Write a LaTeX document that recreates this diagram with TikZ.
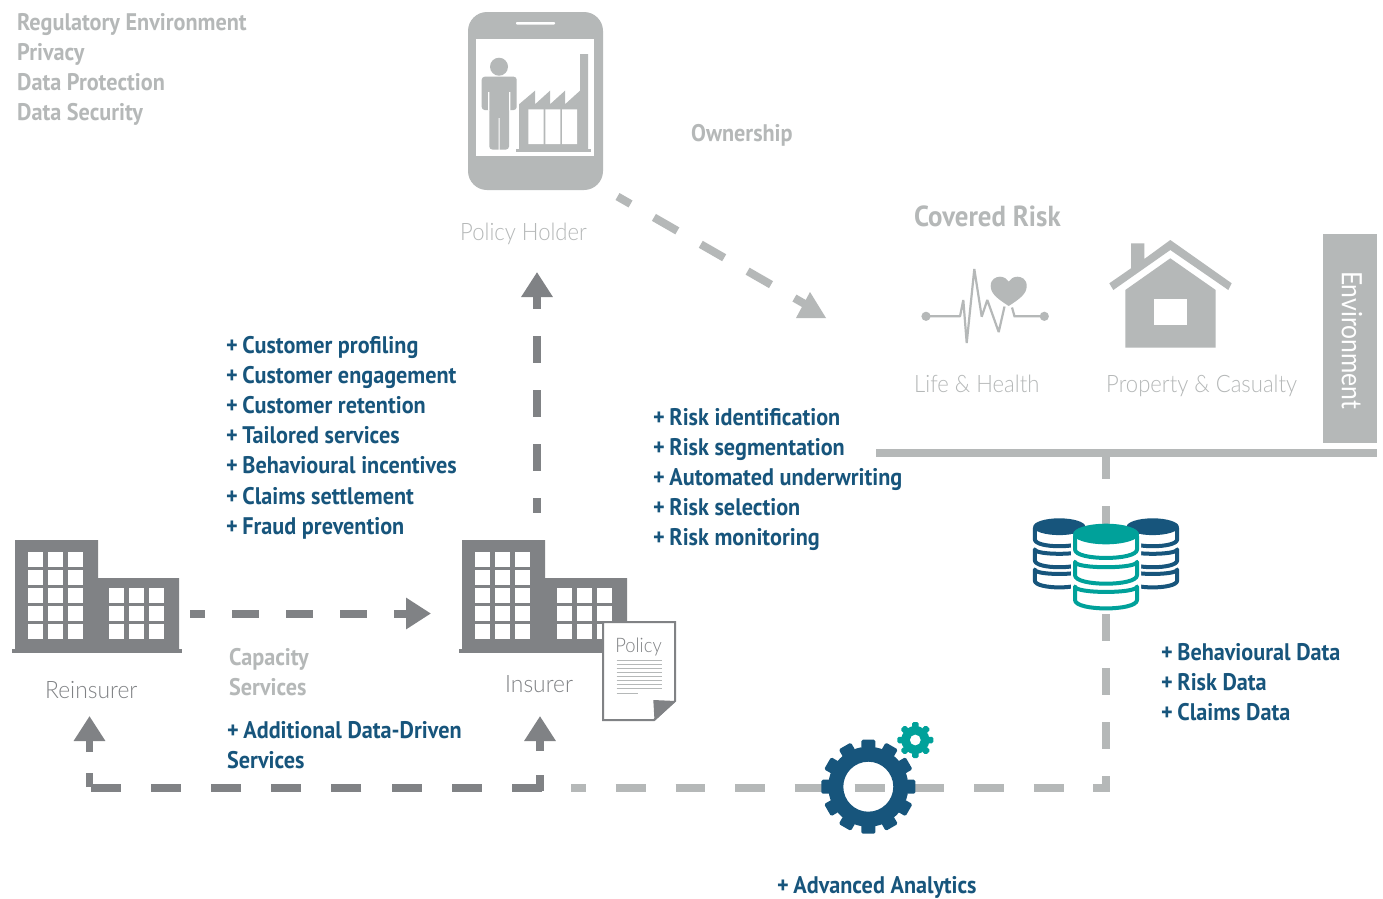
\documentclass[tikz,border=0pt]{standalone}
\usepackage{fontspec}
\usetikzlibrary{arrows.meta}
\newfontfamily\boldface[FakeStretch=0.925]{PT Sans Bold}
\newfontfamily\thinface[FakeStretch=0.92]{Lato Light}
\newfontfamily\thinwide[FakeStretch=0.95]{Lato Light}
\newfontfamily\envface[FakeStretch=0.88]{Lato}
\definecolor{lgray}{HTML}{B5B8B8}
\definecolor{dgray}{HTML}{808285}
\definecolor{navy}{HTML}{17557C}
\definecolor{teal2}{HTML}{00A19A}
\tikzset{
  bluetext/.style={anchor=base west,inner sep=0pt,text=navy,font=\boldface\fontsize{24}{24}\selectfont},
  graytext/.style={anchor=base west,inner sep=0pt,text=lgray,font=\boldface\fontsize{24}{24}\selectfont},
  thintext/.style={anchor=base west,inner sep=0pt,text=lgray,font=\thinface\fontsize{24}{24}\selectfont},
  darkthin/.style={thintext,text=dgray,font=\thinwide\fontsize{24}{24}\selectfont},
  lightdash/.style={draw=lgray,line width=8pt,dash pattern=on 27pt off 27pt},
  darkdash/.style={draw=dgray,line width=8pt,dash pattern=on 27pt off 27pt},
  uptip/.style={-{Triangle[length=25pt,width=30pt]}},
}
% x, y, small-wing shift
\newcommand{\building}[3]{%
 \begin{scope}[shift={(#1,#2)}]
  \fill[dgray] (0,0) rectangle (83,110) (83,38) rectangle ({165+#3},110);
  \fill[dgray] (-3,109) rectangle ({168+#3},113);
  \foreach \cx in {13,33,53} \foreach \cy in {12,30,48,66,84}
    \fill[white] (\cx,\cy) rectangle ++(15,15);
  \foreach \cx in {95,115,135} \foreach \cy in {48,66,84}
    \fill[white] ({\cx+#3},\cy) rectangle ++(15,15);
 \end{scope}}
\newcommand{\dbstack}[5]{%
 \begin{scope}[shift={(#1,#2)},xscale=#4,yscale=#5]
  \fill[white] (-35,0) -- (-35,66) .. controls (-35,80) and (35,80) .. (35,66) -- (35,0) -- cycle;
  \fill[#3] (0,0) ellipse (33 and 10);
  \draw[#3,line width=4pt,line cap=round,line join=round]
    (-31,2) -- (-31,15) .. controls (-31,26) and (31,26) .. (31,15) -- (31,2);
  \draw[#3,line width=4pt,line cap=round,line join=round]
    (-31,27) .. controls (-31,34) and (31,34) .. (31,27) -- (31,40) .. controls (31,51) and (-31,51) .. (-31,40) -- cycle;
  \draw[#3,line width=4pt,line cap=round,line join=round]
    (-31,51) .. controls (-31,58) and (31,58) .. (31,51) -- (31,64) .. controls (31,75) and (-31,75) .. (-31,64) -- cycle;
 \end{scope}}
\newcommand{\cog}[7]{% x y rhole rroot router toothw nteeth
 \begin{scope}[shift={(#1,#2)}]
  \fill[\cogcolor,even odd rule] (0,0) circle (#4) (0,0) circle (#3);
  \pgfmathsetmacro{\stepang}{360/#7}
  \foreach \k in {1,...,#7}{
    \pgfmathsetmacro{\ang}{(\k-1)*\stepang+\cogstart}
    \begin{scope}[rotate=\ang]
      \fill[\cogcolor,rounded corners=1.5pt] (#4-2,-#6/2) rectangle (#5,#6/2);
    \end{scope}}
 \end{scope}}
\begin{document}
\begin{tikzpicture}[x=1pt,y=-1pt]
\useasboundingbox (0,0) rectangle (1383,898);
\fill[white] (0,0) rectangle (1383,898);

% ---- top-left text
\node[graytext] (reg1) at (17,30) {Regulatory Environment};
\node[graytext] (reg2) at (17,60) {Privacy};
\node[graytext] (reg3) at (17,90) {Data Protection};
\node[graytext] (reg4) at (17,120) {Data Security};

% ---- phone
\fill[lgray,rounded corners=19pt] (468,12) rectangle (603,190);
\fill[white] (476,39) rectangle (594,156);
\fill[white,rounded corners=.8pt] (516,22) rectangle (555,24.5);
\fill[lgray] (499,66.7) circle (9);
\fill[lgray,rounded corners=3pt] (481.7,76.7) rectangle (516.7,110);
\fill[lgray,rounded corners=3pt] (489.3,90) rectangle (509,149.5);
\fill[white] (488,92) rectangle (489.3,110.5) (509,92) rectangle (510.3,110.5) (498.6,118) rectangle (499.6,150);
\fill[lgray] (519,104.3) -- (535,90.7) -- (535,104.3) -- (550,90.7) -- (550,104.3) -- (565,90.7) -- (565,104.3) -- (580,90.7) -- (580,54) -- (588,54) -- (588,150) -- (519,150) -- cycle;
\fill[lgray] (516,149) rectangle (590.7,151.7);
\fill[white] (528.3,109.3) rectangle (543.7,144) (545.3,109.3) rectangle (560.3,144) (562,109.3) rectangle (577,144);
\node[thintext] (holder) at (460,240) {Policy Holder};
\node[graytext] (owner) at (691,141) {Ownership};

% ---- ownership connector
\coordinate (ownA) at (617.5,196.5);
\coordinate (ownB) at (810,307);
\draw[lightdash,dash phase=12pt] (ownA) -- (ownB);
\fill[lgray] (810,292) -- (826,318) -- (796,318) -- cycle;

% ---- covered risk
\node[graytext,font=\boldface\fontsize{29}{29}\selectfont] (covered) at (914,226) {Covered Risk};
\fill[lgray] (926,316.3) circle (4.6) (1044.3,316.3) circle (4.6);
\draw[lgray,line width=2.2pt,line join=bevel] (926,316.3) -- (960,316.3) -- (963.3,300) -- (966.7,343) -- (974.3,269) -- (981.7,316.7) -- (987.3,300) -- (998.7,332) -- (1004.5,306.5);
\draw[lgray,line width=2.2pt] (1012,307.5) -- (1014.5,316.3) -- (1044.3,316.3);
\fill[lgray] (1008.7,306) .. controls (998,299) and (990.7,294) .. (990.7,286) .. controls (990.7,279) and (996,276.7) .. (1000,276.7) .. controls (1004,276.7) and (1007,279) .. (1008.7,281.7) .. controls (1010.4,279) and (1013.4,276.7) .. (1017.4,276.7) .. controls (1021.4,276.7) and (1026.7,279) .. (1026.7,286) .. controls (1026.7,294) and (1019.4,299) .. (1008.7,306) -- cycle;
\fill[lgray] (1125.3,290) -- (1170.3,258.3) -- (1215.7,290) -- (1215.7,347.7) -- (1125.3,347.7) -- cycle;
\fill[white] (1154,299) rectangle (1186.7,325);
\fill[lgray] (1109.3,283.3) -- (1131,268.3) -- (1131,243.3) -- (1144.3,243.3) -- (1144.3,259) -- (1170.3,240) -- (1231.7,283.3) -- (1228.3,290) -- (1170.3,250) -- (1113.3,290) -- cycle;
\node[thintext] (life) at (914,392) {Life \& Health};
\node[thintext] (prop) at (1106,392) {Property \& Casualty};

% ---- environment
\fill[lgray] (1323,234) rectangle (1377,443);
\node[rotate=-90,inner sep=0pt,text=white,font=\envface\fontsize{28}{28}\selectfont] (env) at (1352,340) {Environment};
\fill[lgray] (876,449) rectangle (1377,457);
\coordinate (busTap) at (1106,457);

% ---- customer & risk lists
\foreach \t [count=\i from 0] in {Customer profiling,Customer engagement,Customer retention,Tailored services,Behavioural incentives,Claims settlement,Fraud prevention}
  \node[bluetext] (cust\i) at (226,{353+30.2*\i}) {+\hspace{4.5pt}\t};
\foreach \t [count=\i from 0] in {Risk identification,Risk segmentation,Automated underwriting,Risk selection,Risk monitoring}
  \node[bluetext] (risk\i) at (653,{425+30.2*\i}) {+\hspace{4.5pt}\t};
\foreach \t [count=\i from 0] in {Behavioural Data,Risk Data,Claims Data}
  \node[bluetext] (data\i) at (1161,{660+30*\i}) {+\hspace{4.5pt}\t};
\node[bluetext] (add1) at (227,738) {+\hspace{4.5pt}Additional Data-Driven};
\node[bluetext] (add2) at (227,768) {Services};
\node[bluetext] (adv) at (777,893) {+\hspace{4.5pt}Advanced Analytics};
\node[graytext] (cap1) at (229,665) {Capacity};
\node[graytext] (cap2) at (229,695) {Services};

% ---- buildings
\building{15}{540}{-1}
\building{462}{540}{0}
\node[darkthin] (rein) at (45,698) {Reinsurer};
\node[darkthin] (ins) at (505,692) {Insurer};

% ---- policy
\fill[white,draw=dgray,line width=2pt] (603,622) -- (675,622) -- (675,701) -- (654,720) -- (603,720) -- cycle;
\fill[dgray] (653.3,700) -- (676,701) -- (654.5,721) -- cycle;
\node[darkthin,anchor=base,font=\thinface\fontsize{20}{20}\selectfont] (pol) at (638.5,652) {Policy};
\foreach \ly in {660.5,664.5,668.5,672.5,676.5,680.5,684.5,688.5}
  \draw[lgray,line width=1pt] (616.7,\ly) -- (661.7,\ly);
\draw[lgray,line width=1pt] (616.7,693) -- (638,693);

% ---- dark connectors
\coordinate (reinOut) at (190,613.5);
\coordinate (insIn) at (431,613.5);
\draw[darkdash,dash phase=12pt,uptip] (reinOut) -- (insIn);
\coordinate (insTop) at (537,512.5);
\coordinate (holderIn) at (537,272);
\draw[darkdash,dash phase=12pt,uptip] (insTop) -- (holderIn);
\coordinate (botL) at (90,788);
\coordinate (botR) at (542,788);
\draw[darkdash,dash pattern=on 30.1pt off 30.1pt,line width=7.5pt] (botR) -- (botL);
\coordinate (upLs) at (89.5,787);
\coordinate (upLe) at (89.5,716);
\coordinate (upRs) at (540,791);
\coordinate (upRe) at (540,716);
\draw[darkdash,dash pattern=on 14pt off 21pt on 40pt off 1pt,line width=7.5pt,uptip] (upLs) -- (upLe);
\draw[darkdash,dash pattern=on 16pt off 24pt on 40pt off 1pt,line width=7.5pt,uptip] (upRs) -- (upRe);

% ---- light connectors
\coordinate (gL) at (571,788);
\coordinate (gR) at (1108,788);
\coordinate (gC) at (1106,791.5);
\draw[lightdash,dash pattern=on 29.85pt off 29.85pt,dash phase=14.85pt,line width=7.5pt] (gL) -- (gR);
\draw[lightdash,dash phase=11pt] (gC) -- (busTap);

% ---- databases
\dbstack{1059.3}{526.7}{navy}{0.79}{0.84}
\dbstack{1152.7}{526.7}{navy}{0.79}{0.84}
\dbstack{1106}{534}{teal2}{1}{1.03}

% ---- gears
\def\cogcolor{navy}\def\cogstart{0}
\cog{868.3}{786.7}{25}{40}{47}{14}{12}
\def\cogcolor{teal2}\def\cogstart{0}
\cog{915.3}{740}{5.5}{14}{18}{6.5}{8}
\end{tikzpicture}
\end{document}
